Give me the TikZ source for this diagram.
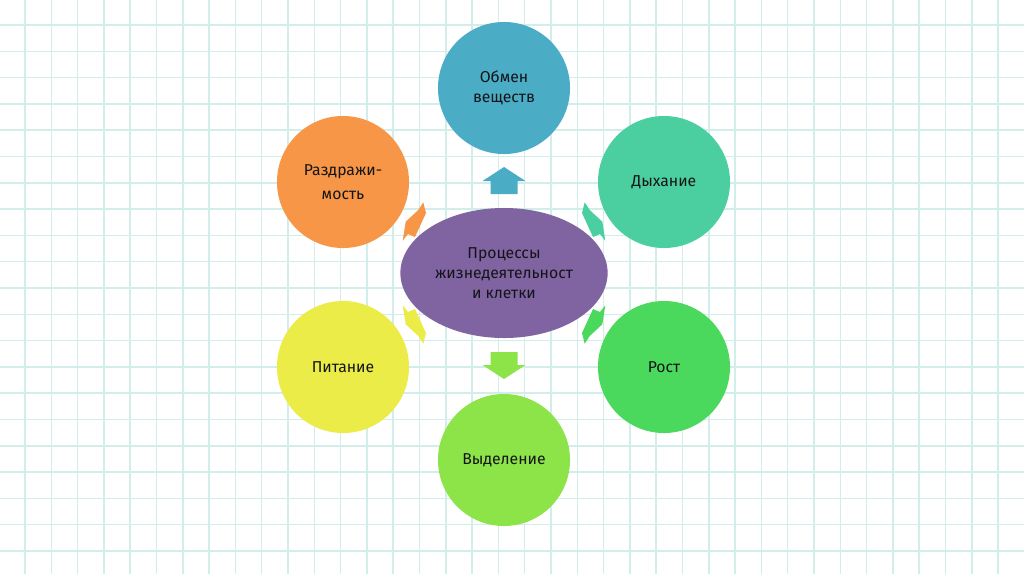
\documentclass[tikz,border=0pt]{standalone}
\usepackage{fontspec}
\setmainfont{Fira Sans}
\usetikzlibrary{shapes.geometric,positioning}
\definecolor{GridTeal}{RGB}{210,238,234}
\definecolor{HubPurple}{RGB}{128,100,162}
\definecolor{MetaBlue}{RGB}{75,172,198}
\definecolor{BreathTeal}{RGB}{75,207,160}
\definecolor{GrowGreen}{RGB}{74,217,92}
\definecolor{ExcrGreen}{RGB}{140,228,72}
\definecolor{FoodYellow}{RGB}{236,236,72}
\definecolor{IrritOrange}{RGB}{247,150,70}
\definecolor{InkDark}{RGB}{20,20,24}
\tikzset{
  gridline/.style={GridTeal, line width=1.1pt},
  celltxt/.style={align=center, text=InkDark, font=\fontsize{11.2}{14}\selectfont},
  bubble/.style={circle, celltxt, minimum size=3.3cm, inner sep=0pt},
  hub/.style={ellipse, celltxt, fill=HubPurple, minimum width=5.18cm, minimum height=3.25cm, inner sep=0pt},
}

\begin{document}
\begin{tikzpicture}[x=0.025cm, y=-0.025cm]
  \useasboundingbox[fill=white] (0,0) rectangle (1024,574);
  % squared paper
  \foreach \i in {0,...,37} \draw[gridline] ({25+26.3*\i},0) -- ({25+26.3*\i},574);
  \foreach \j in {0,...,20} \draw[gridline] (0,{25+26.3*\j}) -- (1024,{25+26.3*\j});

  \node[hub] (hub) at (504,273) {Процессы\\жизнедеятельност\\и клетки};

  \node[bubble, fill=MetaBlue] (meta) at (504,88) {Обмен\\веществ};
  \node[bubble, fill=BreathTeal] (breath) at (664,182) {Дыхание};
  \node[bubble, fill=GrowGreen] (grow) at (664,367) {Рост};
  \node[bubble, fill=ExcrGreen] (excr) at (504,460) {Выделение};
  \node[bubble, fill=FoodYellow] (food) at (343,367) {Питание};
  \node[bubble, fill=IrritOrange] (irrit) at (343,182) {Раздражи-\\[3pt]мость};

  % block arrows up and down
  \foreach \sy/\col in {1/MetaBlue, -1/ExcrGreen} {
    \begin{scope}[shift={(hub.center)}, yscale=\sy]
      \fill[\col] (0,-106) -- (21.5,-92) -- (13.5,-92) -- (13.5,-79)
        -- (-13.5,-79) -- (-13.5,-92) -- (-21.5,-92) -- cycle;
    \end{scope}
  }
  % skewed block arrows on the diagonals
  \foreach \sx/\sy/\col in {1/1/IrritOrange, -1/1/BreathTeal, 1/-1/FoodYellow, -1/-1/GrowGreen} {
    \begin{scope}[shift={(hub.center)}, xscale=\sx, yscale=\sy]
      \fill[\col] (-80.7,-70.7) -- (-78,-60) -- (-89,-36) -- (-96,-39)
        -- (-101.3,-32.3) -- (-98.3,-51.3) -- (-85.7,-63) -- cycle;
    \end{scope}
  }
\end{tikzpicture}
\end{document}
